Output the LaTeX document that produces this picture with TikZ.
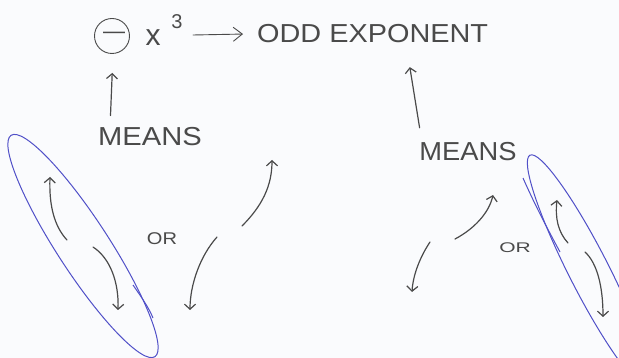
\documentclass[tikz,border=0pt]{standalone}
\usepackage{fontspec}
\setmainfont{Liberation Sans}
\usetikzlibrary{arrows.meta}
\definecolor{ink}{HTML}{4A4A4A}
\definecolor{pen}{HTML}{5050C8}
\definecolor{paper}{HTML}{FAFBFD}
\begin{document}
\begin{tikzpicture}[x=1pt,y=-1pt,
  hand/.style={text=ink, inner sep=0pt},
  arr/.style={draw=ink, line width=1.2pt, line cap=round, -{Straight Barb[length=5pt,width=11pt,line width=1.2pt]}},
  penloop/.style={draw=pen, line width=1pt}]
\fill[paper] (0,0) rectangle (619,358);
\useasboundingbox (0,0) rectangle (619,358);

% title line
\node[hand, circle, draw=ink, line width=0.9pt, minimum size=35pt, font=\fontsize{22}{22}\selectfont] (neg) at (112,36) {\hspace{4pt}\raisebox{1pt}{—}};
\node[hand, font=\fontsize{30}{30}\selectfont] (x) at (153,38) {x};
\node[hand, font=\fontsize{20}{20}\selectfont] (three) at (177,22) {3};
\node[hand, anchor=base west, font=\fontsize{26}{26}\selectfont] (odd) at (257,43) {\scalebox{1.11}[1]{ODD EXPONENT}};
\coordinate (a1) at (193,35);
\draw[draw=ink, line width=0.9pt, line cap=round, -{Straight Barb[length=9pt,width=14pt,line width=0.9pt]}] (a1) -- (odd.west -| 243,0);

% MEANS labels
\node[hand, font=\fontsize{26}{26}\selectfont] (m1) at (150,137) {\scalebox{1.12}[1]{MEANS}};
\node[hand, font=\fontsize{26}{26}\selectfont] (m2) at (468,152) {\scalebox{1.05}[1]{MEANS}};
\draw[arr, shorten <=12pt, shorten >=19pt] (m1.north -| 110,0) -- (neg.south -| 113,0);
\draw[arr, shorten <=15pt, shorten >=24pt] (m2.north -| 422,0) -- (odd.south -| 406,0);

% OR labels
\node[hand, font=\fontsize{17}{17}\selectfont] (or1) at (162,239) {\scalebox{1.18}[1]{OR}};
\node[hand, font=\fontsize{14}{14}\selectfont] (or2) at (515,248) {\scalebox{1.5}[1]{OR}};

% left group arrows
\coordinate (l1s) at (67,240);  \coordinate (l1e) at (50,177);
\coordinate (l2s) at (93,247);  \coordinate (l2e) at (118,310);
\draw[arr] (l1s) .. controls (54,226) and (49,205) .. (l1e);
\draw[arr] (l2s) .. controls (110,258) and (119,282) .. (l2e);

% middle arrows
\coordinate (c1s) at (242,226); \coordinate (c1e) at (272,160);
\coordinate (c2s) at (217,237); \coordinate (c2e) at (190,310);
\draw[arr] (c1s) .. controls (262,206) and (272,186) .. (c1e);
\draw[arr] (c2s) .. controls (200,256) and (190,285) .. (c2e);

% right-middle arrows
\coordinate (r1s) at (455,239); \coordinate (r1e) at (493,195);
\coordinate (r2s) at (430,242); \coordinate (r2e) at (412,292);
\draw[arr] (r1s) .. controls (474,229) and (489,213) .. (r1e);
\draw[arr] (r2s) .. controls (420,257) and (413,275) .. (r2e);

% right group arrows
\coordinate (g1s) at (568,243); \coordinate (g1e) at (557,200);
\coordinate (g2s) at (585,252); \coordinate (g2e) at (603,317);
\draw[arr] (g1s) .. controls (558,232) and (555,218) .. (g1e);
\draw[arr] (g2s) .. controls (597,263) and (603,286) .. (g2e);

% blue loops
\draw[penloop, rotate around={-57:(83,246)}] (83,246) ellipse [x radius=132, y radius=26];
\draw[penloop] (133,285) .. controls (142,298) and (149,308) .. (153,318);
\draw[penloop, rotate around={-63:(589,271)}] (589,271) ellipse [x radius=130, y radius=20];
\draw[penloop] (523,178) .. controls (534,203) and (547,228) .. (560,252);
\end{tikzpicture}
\end{document}
